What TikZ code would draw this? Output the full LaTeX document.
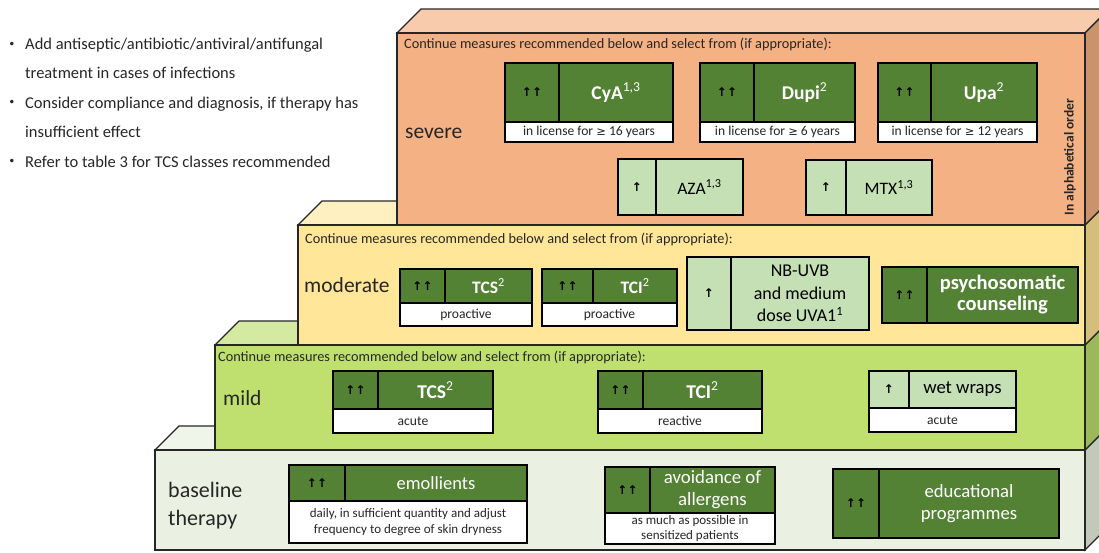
\documentclass[tikz,border=0pt]{standalone}
\usepackage{fontspec}
\setmainfont{Carlito}
\newfontfamily\symfont{DejaVu Sans}
\usetikzlibrary{positioning}

\definecolor{sevfront}{HTML}{F4B183}
\definecolor{sevtop}{HTML}{F8CBAD}
\definecolor{sevside}{HTML}{C9946B}
\definecolor{modfront}{HTML}{FFE699}
\definecolor{modtop}{HTML}{FFF0C2}
\definecolor{modside}{HTML}{D5BD7B}
\definecolor{milfront}{HTML}{BFE06E}
\definecolor{miltop}{HTML}{D3EAA0}
\definecolor{milside}{HTML}{9BB95A}
\definecolor{basfront}{HTML}{EAF1E3}
\definecolor{bastop}{HTML}{F0F5EA}
\definecolor{basside}{HTML}{C2C9BA}
\definecolor{darkgreen}{HTML}{548235}
\definecolor{palegreen}{HTML}{C5E0B4}
\definecolor{ink}{HTML}{262626}

\newcommand\fs[2]{\fontsize{#1}{#2}\selectfont}
\newcommand\upar{{\symfont\bfseries\fs{12}{14}↑}}
\newcommand\atleast{{\symfont\fs{11.5}{13}≥}}

% tier of the pyramid: left, top, bottom, front, top face, side
\newcommand\tier[6]{%
  \filldraw[tierline, fill=#5] (#1,#2) -- ({#1+24},{#2-24}) -- (1109,{#2-24}) -- (1085,#2) -- cycle;
  \filldraw[tierline, fill=#6] (1085,#2) -- (1109,{#2-24}) -- (1109,{#3-24}) -- (1085,#3) -- cycle;
  \filldraw[tierline, fill=#4] (#1,#2) rectangle (1085,#3);
}
% recommendation: name, style, top left, grade width, text width, height, grade, text
\newcommand\recbox[8]{%
  \node[cell, #2, text=black, minimum width=#4pt, minimum height=#6pt, anchor=north west] (#1-g) at #3 {#7};
  \node[cell, #2, minimum width=#5pt, minimum height=#6pt, anchor=north west] (#1) at (#1-g.north east) {#8};
}
% remark under a recommendation: name, width, height, style, text
\newcommand\recnote[5]{%
  \node[cell, note, #4, minimum width=#2pt, minimum height=#3pt, anchor=north west] (#1-n) at (#1-g.south west) {#5};
}

\tikzset{
  tierline/.style={draw=ink, line width=1.2pt},
  cell/.style={draw=black, line width=1.3pt, inner sep=1pt, outer sep=0pt, align=center},
  strong/.style={fill=darkgreen, text=white},
  weak/.style={fill=palegreen, text=black},
  note/.style={fill=white, text=ink, font=\fs{13.6}{15}},
  head/.style={anchor=base west, text=ink, inner sep=0pt, font=\fs{14.3}{16}},
  level/.style={anchor=base west, text=ink, inner sep=0pt, font=\fs{21.5}{28}},
  listline/.style={anchor=base west, text=ink, inner sep=0pt, font=\fs{16.5}{19}},
  dot/.style={text=ink, inner sep=0pt, font=\symfont\fs{12}{12}},
}

\begin{document}
\begin{tikzpicture}[x=1pt, y=-1pt]
  \clip (0,0) rectangle (1099,552);

  % pyramid, bottom up
  \tier{155}{450}{550}{basfront}{bastop}{basside}
  \tier{215}{345}{450}{milfront}{miltop}{milside}
  \tier{298}{225}{345}{modfront}{modtop}{modside}
  \tier{397}{33}{225}{sevfront}{sevtop}{sevside}

  % general advice
  \node[dot] (d1) at (12,45) {•};
  \node[dot] (d2) at (12,103) {•};
  \node[dot] (d3) at (12,162) {•};
  \node[listline] (l1) at (25,49) {Add antiseptic/antibiotic/antiviral/antifungal};
  \node[listline] (l2) at (25,78) {treatment in cases of infections};
  \node[listline] (l3) at (25,108) {Consider compliance and diagnosis, if therapy has};
  \node[listline] (l4) at (25,137) {insufficient effect};
  \node[listline] (l5) at (25,167) {Refer to table 3 for TCS classes recommended};

  % severe
  \node[head] (sevhead) at (404,48) {Continue measures recommended below and select from (if appropriate):};
  \node[level] (sev) at (405,138) {severe};
  \recbox{cya}{strong, font=\fs{19.5}{21}\bfseries}{(505,63)}{54}{114}{59}{\upar\upar}{CyA\textsuperscript{\mdseries 1,3}}
  \recnote{cya}{168}{20}{}{in license for \atleast\ 16 years}
  \recbox{dupi}{strong, font=\fs{19.5}{21}\bfseries}{(700,63)}{54}{101}{59}{\upar\upar}{Dupi\textsuperscript{\mdseries 2}}
  \recnote{dupi}{155}{20}{}{in license for \atleast\ 6 years}
  \recbox{upa}{strong, font=\fs{19.5}{21}\bfseries}{(878,63)}{53}{106}{59}{\upar\upar}{Upa\textsuperscript{\mdseries 2}}
  \recnote{upa}{159}{20}{}{in license for \atleast\ 12 years}
  \recbox{aza}{weak, font=\fs{17.5}{20}}{(618,159)}{38}{87}{56}{\upar}{AZA\textsuperscript{1,3}}
  \recbox{mtx}{weak, font=\fs{17.5}{20}}{(806,160)}{40}{86}{55}{\upar}{MTX\textsuperscript{1,3}}
  \node[rotate=90, text=ink, inner sep=0pt, font=\fs{13.5}{14}\bfseries] (order) at (1070,157) {In alphabetical order};

  % moderate
  \node[head] (modhead) at (305,243) {Continue measures recommended below and select from (if appropriate):};
  \node[level] (mod) at (304,292) {moderate};
  \recbox{tcsp}{strong, font=\fs{17.5}{20}\bfseries}{(400,269)}{45}{87}{34}{\upar\upar}{TCS\textsuperscript{\mdseries 2}}
  \recnote{tcsp}{132}{23}{}{proactive}
  \recbox{tcip}{strong, font=\fs{17.5}{20}\bfseries}{(542,269)}{51}{84}{34}{\upar\upar}{TCI\textsuperscript{\mdseries 2}}
  \recnote{tcip}{135}{23}{}{proactive}
  \recbox{uv}{weak, font=\fs{18}{22.5}}{(687,257)}{44}{138}{73}{\upar}{NB-UVB\\and medium\\dose UVA1\textsuperscript{1}}
  \recbox{psy}{strong, font=\fs{20.5}{21}\bfseries}{(882,267)}{45}{151}{56}{\upar\upar}{psychosomatic\\counseling}

  % mild
  \node[head] (milhead) at (218,361) {Continue measures recommended below and select from (if appropriate):};
  \node[level] (mil) at (223,405) {mild};
  \recbox{tcsa}{strong, font=\fs{19.5}{21}\bfseries}{(333,371)}{45}{115}{38}{\upar\upar}{TCS\textsuperscript{\mdseries 2}}
  \recnote{tcsa}{160}{24}{}{acute}
  \recbox{tcir}{strong, font=\fs{19.5}{21}\bfseries}{(598,371)}{45}{119}{38}{\upar\upar}{TCI\textsuperscript{\mdseries 2}}
  \recnote{tcir}{164}{24}{}{reactive}
  \recbox{wet}{weak, font=\fs{18.7}{20}}{(869,371)}{40}{107}{37}{\upar}{wet wraps}
  \recnote{wet}{147}{24}{}{acute}

  % baseline therapy
  \node[level, anchor=west, align=left, font=\fs{22}{28}] (bas) at (168,506) {baseline\\therapy};
  \recbox{emo}{strong, font=\fs{18.5}{20}}{(289,465)}{56}{182}{36}{\upar\upar}{emollients}
  \recnote{emo}{238}{42}{font=\fs{13}{16}}{daily, in sufficient quantity and adjust\\frequency to degree of skin dryness}
  \recbox{avo}{strong, font=\fs{18.8}{22}}{(605,467)}{45}{125}{46}{\upar\upar}{avoidance of\\allergens}
  \recnote{avo}{170}{31}{font=\fs{13}{15}}{as much as possible in\\sensitized patients}
  \recbox{edu}{strong, font=\fs{18.7}{22}}{(833,469)}{46}{180}{69}{\upar\upar}{educational\\programmes}
\end{tikzpicture}
\end{document}
